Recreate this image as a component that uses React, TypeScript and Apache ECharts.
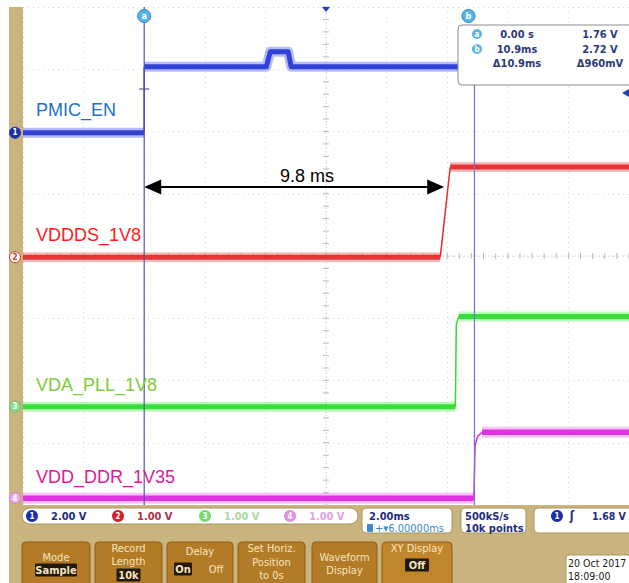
import React, { useEffect, useRef } from "react";
import * as echarts from "echarts";

// Horizontal axis: time in ms (2.00 ms/div, 10 divisions, centre at 6 ms)
const TIME_MIN = -4;
const TIME_MAX = 16;
const TIME_STEP = 2;
// Vertical axis: screen divisions (8 divisions)
const DIV_MIN = -4;
const DIV_MAX = 4;

// PMIC_EN (channel 1)
const pmicLowT = [-4, 0];
const pmicLowV = [1.98, 1.98];
const pmicEdgeT = [0, 0];
const pmicEdgeV = [1.98, 3.04];
const pmicHighT = [0, 4.03, 4.16, 4.75, 4.85, 16];
const pmicHighV = [3.04, 3.04, 3.28, 3.28, 3.04, 3.04];

// VDDDS_1V8 (channel 2)
const vdddsLowT = [-4, 9.77];
const vdddsLowV = [-0.02, -0.02];
const vdddsEdgeT = [9.77, 10.1];
const vdddsEdgeV = [-0.02, 1.43];
const vdddsHighT = [10.1, 16];
const vdddsHighV = [1.43, 1.43];

// VDA_PLL_1V8 (channel 3)
const vdaLowT = [-4, 10.27];
const vdaLowV = [-2.42, -2.42];
const vdaEdgeT = [10.27, 10.3, 10.38];
const vdaEdgeV = [-2.42, -1.1, -0.97];
const vdaHighT = [10.38, 16];
const vdaHighV = [-0.97, -0.97];

// VDD_DDR_1V35 (channel 4)
const ddrLowT = [-4, 10.88];
const ddrLowV = [-3.89, -3.89];
const ddrEdgeT = [10.88, 10.92, 11.0, 11.15];
const ddrEdgeV = [-3.89, -3.05, -2.9, -2.83];
const ddrHighT = [11.15, 16];
const ddrHighV = [-2.83, -2.83];

// cursors (ms) and the annotation arrow
const cursorTimes = [0, 10.9];
const arrowT = [0.28, 9.62];
const arrowLevel = 1.11;

const readoutLeft = ["0.00 s", "10.9ms", "Δ10.9ms"];
const readoutRight = ["1.76 V", "2.72 V", "Δ960mV"];

const FONT_UI = '"DejaVu Sans Condensed","Liberation Sans Narrow","DejaVu Sans",sans-serif';
const FONT_LBL = '"Liberation Sans", Arial, sans-serif';

function line(t: number[], v: number[], color: string, width: number, opacity: number, z: number) {
  return {
    type: "line",
    data: t.map((x, i) => [x, v[i]]),
    symbol: "none",
    silent: true,
    z,
    lineStyle: { color, width, opacity, cap: "butt", join: "round" },
  };
}

function trace(
  lowT: number[], lowV: number[], edgeT: number[], edgeV: number[], highT: number[], highV: number[],
  core: string, band: string, w: number
) {
  return [
    line(lowT, lowV, band, w, 0.45, 2),
    line(highT, highV, band, w, 0.45, 2),
    line(lowT, lowV, core, w * 0.5, 0.95, 3),
    line(highT, highV, core, w * 0.5, 0.95, 3),
    line(edgeT, edgeV, core, 1.5, 1, 3),
  ];
}

export default function App() {
  const ref = useRef<HTMLDivElement>(null);
  useEffect(() => {
    if (!ref.current) return;
    const chart = echarts.init(ref.current, null, { renderer: "svg" });
    const series: any[] = [
      ...trace(pmicLowT, pmicLowV, pmicEdgeT, pmicEdgeV, pmicHighT, pmicHighV, "#2b3bd6", "#5a6cf0", 10),
      ...trace(vdddsLowT, vdddsLowV, vdddsEdgeT, vdddsEdgeV, vdddsHighT, vdddsHighV, "#e52b2b", "#f06a6a", 10),
      ...trace(vdaLowT, vdaLowV, vdaEdgeT, vdaEdgeV, vdaHighT, vdaHighV, "#2fdc2f", "#74f074", 10),
      ...trace(ddrLowT, ddrLowV, ddrEdgeT, ddrEdgeV, ddrHighT, ddrHighV, "#dd2bdd", "#f078f0", 11),
      {
        type: "line",
        data: [],
        z: 6,
        silent: true,
        markLine: {
          silent: true,
          symbol: ["triangle", "triangle"],
          symbolSize: [15, 17],
          label: { show: false },
          lineStyle: { color: "#000", width: 2, type: "solid" },
          data: [[{ coord: [arrowT[0], arrowLevel] }, { coord: [arrowT[1], arrowLevel] }]],
        },
      },
    ];
    chart.setOption({
      animation: false,
      backgroundColor: "#ffffff",
      grid: { left: 23, top: 7, width: 610, height: 498 },
      xAxis: {
        type: "value", min: TIME_MIN, max: TIME_MAX, interval: TIME_STEP,
        axisLine: { show: false }, axisTick: { show: false }, axisLabel: { show: false },
        splitLine: { show: true, lineStyle: { color: "#d8d8d8", type: [1, 4], width: 1 } },
      },
      yAxis: {
        type: "value", min: DIV_MIN, max: DIV_MAX, interval: 1,
        axisLine: { show: false }, axisTick: { show: false }, axisLabel: { show: false },
        splitLine: { show: true, lineStyle: { color: "#d8d8d8", type: [1, 4], width: 1 } },
      },
      series,
    });

    const px = (t: number, v: number) => chart.convertToPixel({ gridIndex: 0 }, [t, v]) as number[];
    const els: any[] = [];
    const rect = (x: number, y: number, w: number, h: number, fill: string, stroke: string | null, r: number, z: number, lw = 1) =>
      els.push({ type: "rect", z, silent: true, shape: { x, y, width: w, height: h, r }, style: { fill, stroke: stroke || undefined, lineWidth: lw } });
    const text = (x: number, y: number, t: string, fill: string, font: string, align = "left", z = 20) =>
      els.push({ type: "text", z, silent: true, x, y, style: { text: t, fill, font, align, verticalAlign: "middle" } });
    const circle = (cx: number, cy: number, r: number, fill: string, stroke: string | null, z: number) =>
      els.push({ type: "circle", z, silent: true, shape: { cx, cy, r }, style: { fill, stroke: stroke || undefined, lineWidth: 1 } });
    const seg = (x1: number, y1: number, x2: number, y2: number, stroke: string, w: number, z: number) =>
      els.push({ type: "line", z, silent: true, shape: { x1, y1, x2, y2 }, style: { stroke, lineWidth: w } });

    const TAN = "#c9b47f";
    const [gx0, gy0] = px(TIME_MIN, DIV_MAX);
    const [gx1, gy1] = px(TIME_MAX, DIV_MIN);

    // frame
    rect(9, gy0, gx0 - 9, gy1 - gy0, TAN, null, 0, 1);
    rect(9, gy1, 640, 583 - gy1 + 2, TAN, null, 0, 1);

    // centre axes with minor ticks
    const [cx] = px(6, 0);
    const [, cy] = px(0, 0);
    els.push({ type: "line", z: 1, silent: true, shape: { x1: gx0, y1: cy, x2: gx1, y2: cy }, style: { stroke: "#cfcfcf", lineWidth: 1, lineDash: [1, 2] } });
    els.push({ type: "line", z: 1, silent: true, shape: { x1: cx, y1: gy0, x2: cx, y2: gy1 }, style: { stroke: "#cfcfcf", lineWidth: 1, lineDash: [1, 2] } });
    for (let i = 0; i <= 50; i++) {
      const [x] = px(TIME_MIN + i * 0.4, 0);
      seg(x, cy - 3, x, cy + 3, "#bdbdbd", 1, 1);
    }
    for (let i = 0; i <= 40; i++) {
      const [, y] = px(6, DIV_MIN + i * 0.2);
      seg(cx - 3, y, cx + 3, y, "#bdbdbd", 1, 1);
    }
    // top position marker and trigger level marker
    els.push({ type: "polygon", z: 30, silent: true, shape: { points: [[cx - 4, gy0], [cx + 4, gy0], [cx, gy0 + 5]] }, style: { fill: "#2a40a8" } });
    els.push({ type: "polygon", z: 30, silent: true, shape: { points: [[629, 89], [622, 93], [629, 97]] }, style: { fill: "#2040c0" } });

    // cursors
    const [ax] = px(cursorTimes[0], 0);
    const [bx] = px(cursorTimes[1], 0);
    seg(ax, gy0, ax, gy1, "#56599c", 1.2, 8);
    seg(bx, 85, bx, gy1, "#7474d4", 1.2, 8);
    seg(ax - 5, 89, ax + 5, 89, "#56599c", 1.2, 8);
    circle(ax, 16, 6.5, "#58b4e4", "#2f86bb", 30);
    text(ax, 16, "a", "#ffffff", "bold 9px " + FONT_UI, "center", 31);
    circle(bx - 6, 16, 6.5, "#58b4e4", "#2f86bb", 30);
    text(bx - 6, 16, "b", "#ffffff", "bold 9px " + FONT_UI, "center", 31);

    // readout box
    rect(458, 25, 190, 60, "#ffffff", "#8c8c8c", 4, 50, 1);
    circle(477, 34, 5, "#58b4e4", null, 51);
    text(477, 34, "a", "#ffffff", "bold 8px " + FONT_UI, "center", 52);
    circle(477, 49, 5, "#58b4e4", null, 51);
    text(477, 49, "b", "#ffffff", "bold 8px " + FONT_UI, "center", 52);
    [34, 49, 63].forEach((y, i) => {
      text(517, y, readoutLeft[i], "#2b3a7a", "bold 11px " + FONT_UI, "center", 52);
      text(600, y, readoutRight[i], "#2b3a7a", "bold 11px " + FONT_UI, "center", 52);
    });

    // channel ground markers
    const chMarks: [number, string, string, string, string][] = [
      [pmicLowV[0], "1", "#1c2fa6", "#ffffff", "#1c2fa6"],
      [vdddsLowV[0], "2", "#fff3ee", "#c8402a", "#c8402a"],
      [vdaLowV[0], "3", "#86e08a", "#ffffff", "#6cc070"],
      [ddrLowV[0], "4", "#eea8ee", "#ffffff", "#d080d0"],
    ];
    chMarks.forEach(([v, n, fill, tc, st]) => {
      const [, y] = px(0, v);
      circle(15, y, 5.5, fill, st, 30);
      text(15, y, n, tc, "bold 8px " + FONT_UI, "center", 31);
    });

    // trace labels
    text(36, 110, "PMIC_EN", "#1b72c6", "18px " + FONT_LBL, "left", 20);
    text(36, 235, "VDDDS_1V8", "#ff1a1a", "18px " + FONT_LBL, "left", 20);
    text(36, 385, "VDA_PLL_1V8", "#7ccc3c", "18px " + FONT_LBL, "left", 20);
    text(36, 477, "VDD_DDR_1V35", "#e0169c", "18px " + FONT_LBL, "left", 20);
    text(280, 176, "9.8 ms", "#000000", "18px " + FONT_LBL, "left", 20);

    // channel bar
    rect(22, 508, 336, 16, "#ffffff", "#a8965e", 8, 40);
    const chBar: [number, string, string, string][] = [
      [32, "1", "#1c2fa6", "#1e2c80"],
      [118, "2", "#d0202a", "#b0304a"],
      [205, "3", "#70dd70", "#a8d8a0"],
      [290, "4", "#e090e0", "#e0a0e0"],
    ];
    const chScale = ["2.00 V", "1.00 V", "1.00 V", "1.00 V"];
    chBar.forEach(([x, n, c, tc], i) => {
      circle(x, 516, 6, c, null, 41);
      text(x, 516, n, "#ffffff", "bold 8px " + FONT_UI, "center", 42);
      text(x + 19, 516, chScale[i], tc, "bold 11px " + FONT_UI, "left", 42);
    });

    // timebase / acquisition / trigger boxes
    rect(362, 508, 90, 25, "#ffffff", "#a8965e", 4, 40);
    text(369, 516, "2.00ms", "#1e2c80", "bold 11px " + FONT_UI, "left", 42);
    rect(367, 524, 6, 8, "#3a8ad0", null, 1, 42);
    text(375, 528, "+▾6.00000ms", "#3a8ad0", "11px " + FONT_UI, "left", 42);
    rect(461, 508, 65, 25, "#ffffff", "#a8965e", 4, 40);
    text(465, 516, "500kS/s", "#1e2c80", "bold 11px " + FONT_UI, "left", 42);
    text(465, 528, "10k points", "#1e2c80", "bold 11px " + FONT_UI, "left", 42);
    rect(534, 508, 110, 25, "#ffffff", "#a8965e", 4, 40);
    circle(557, 516, 6, "#1c2fa6", null, 41);
    text(557, 516, "1", "#ffffff", "bold 8px " + FONT_UI, "center", 42);
    text(572, 516, "ʃ", "#1e2c80", "bold 12px " + FONT_UI, "center", 42);
    text(592, 516, "1.68 V", "#1e2c80", "bold 10.5px " + FONT_UI, "left", 42);

    // date box
    rect(566, 555, 80, 32, "#ffffff", "#a8965e", 3, 40);
    text(568, 563, "20 Oct 2017", "#1e2010", "10.5px " + FONT_UI, "left", 42);
    text(568, 576, "18:09:00", "#1e2010", "10.5px " + FONT_UI, "left", 42);

    // soft-key buttons
    const BTN = "#b37b26";
    const BTN_T = "#f4e4c0";
    const hl = (x: number, y: number, t: string) => {
      const w = t.length * 6 + 6;
      rect(x - w / 2, y - 6.5, w, 13, "#231a0c", null, 1, 43);
      text(x, y, t, BTN_T, "bold 11px " + FONT_UI, "center", 44);
    };
    const btn = (x: number, w: number, lines: [string, number, boolean][], fill = BTN) => {
      rect(x, 542, w, 50, fill, "#8c5c14", 4, 40);
      lines.forEach(([t, y, h]) => {
        if (h) hl(x + w / 2, y, t);
        else text(x + w / 2, y, t, BTN_T, "11px " + FONT_UI, "center", 44);
      });
    };
    btn(22, 68, [["Mode", 557, false], ["Sample", 570, true]]);
    btn(95, 67, [["Record", 548, false], ["Length", 561, false], ["10k", 575, true]]);
    btn(167, 66, [["Delay", 551, false]]);
    hl(183, 569, "On");
    text(216, 569, "Off", BTN_T, "11px " + FONT_UI, "center", 44);
    btn(238, 67, [["Set Horiz.", 548, false], ["Position", 562, false], ["to 0s", 575, false]]);
    btn(312, 65, [["Waveform", 557, false], ["Display", 570, false]]);
    btn(382, 70, [["XY Display", 548, false], ["Off", 565, true]], "#c0862c");

    chart.setOption({ graphic: { elements: els } });
    return () => chart.dispose();
  }, []);
  return (
    <div
      ref={ref}
      style={{ position: "absolute", left: 0, top: 0, width: 629, height: 583, background: "#fff" }}
    />
  );
}
